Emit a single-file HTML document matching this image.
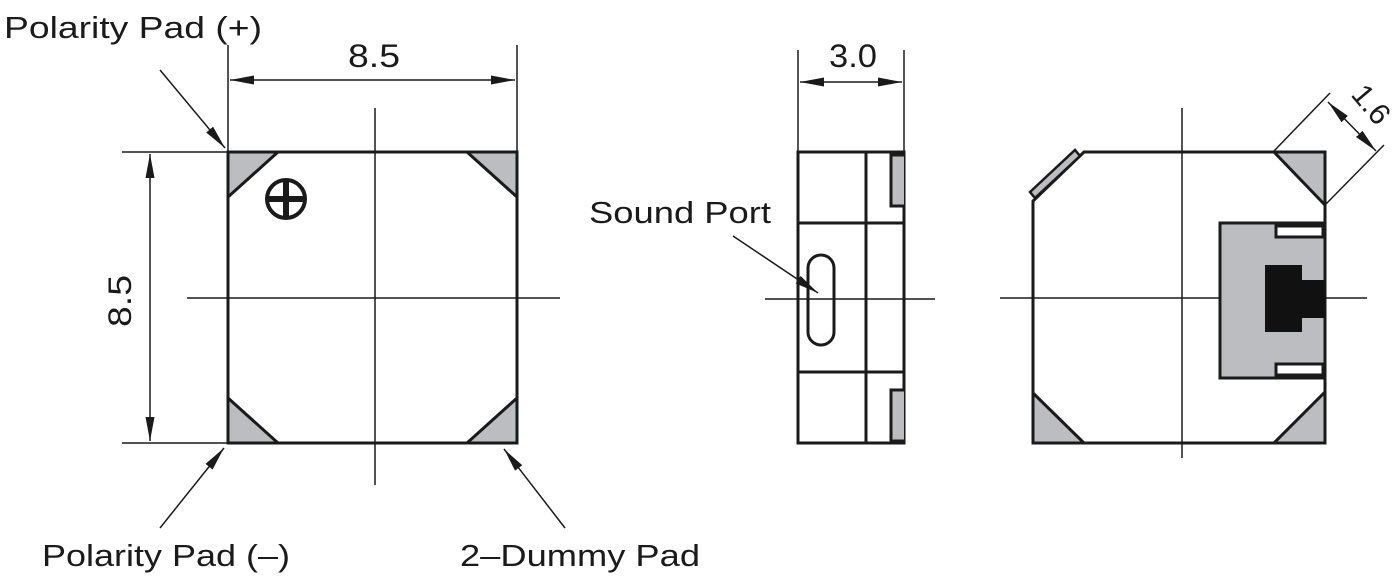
<!DOCTYPE html>
<html><head><meta charset="utf-8"><style>
html,body{margin:0;padding:0;background:#fff;}
svg{display:block;}
text{font-family:"Liberation Sans",sans-serif;fill:#1a1a1a;}
</style></head><body>
<svg width="1400" height="580" viewBox="0 0 1400 580" xmlns="http://www.w3.org/2000/svg">
<defs>
<marker id="a" viewBox="0 0 24 9" refX="24" refY="4.5" markerWidth="24" markerHeight="9" orient="auto" markerUnits="userSpaceOnUse">
<path d="M0,0 L24,4.5 L0,9 z" fill="#1a1a1a"/></marker>
<marker id="b" viewBox="0 0 24 9" refX="0" refY="4.5" markerWidth="24" markerHeight="9" orient="auto" markerUnits="userSpaceOnUse">
<path d="M24,0 L0,4.5 L24,9 z" fill="#1a1a1a"/></marker>
</defs>
<g stroke="#1a1a1a" fill="none">
<g stroke-width="1.5">
<line x1="375" y1="108" x2="375" y2="485"/>
<line x1="187" y1="298" x2="560" y2="298"/>
<line x1="228" y1="45" x2="228" y2="152"/>
<line x1="517" y1="45" x2="517" y2="152"/>
<line x1="230" y1="80" x2="515" y2="80" marker-start="url(#b)" marker-end="url(#a)"/>
<line x1="122" y1="152" x2="228" y2="152"/>
<line x1="122" y1="443" x2="228" y2="443"/>
<line x1="150" y1="154" x2="150" y2="441" marker-start="url(#b)" marker-end="url(#a)"/>
<line x1="160" y1="70" x2="225" y2="148" marker-end="url(#a)"/>
<line x1="160" y1="528" x2="224" y2="448" marker-end="url(#a)"/>
<line x1="565" y1="528" x2="504" y2="449" marker-end="url(#a)"/>
</g>
<g stroke-width="3">
<polygon points="228,152 278,152 228,197" fill="#bcbdc0"/>
<polygon points="517,152 467,152 517,197" fill="#bcbdc0"/>
<polygon points="228,443 278,443 228,398" fill="#bcbdc0"/>
<polygon points="517,443 467,443 517,398" fill="#bcbdc0"/>
<rect x="228" y="152" width="289" height="291"/>
<circle cx="286" cy="199" r="19" stroke-width="4"/>
</g>
<line x1="286" y1="181" x2="286" y2="217" stroke-width="6"/>
<line x1="268" y1="199" x2="304" y2="199" stroke-width="6"/>
<g stroke-width="1.5">
<line x1="798" y1="50" x2="798" y2="152"/>
<line x1="904" y1="50" x2="904" y2="152"/>
<line x1="800" y1="82" x2="902" y2="82" marker-start="url(#b)" marker-end="url(#a)"/>
<line x1="765" y1="299" x2="935" y2="299"/>
<line x1="733" y1="236" x2="818" y2="293" marker-end="url(#a)"/>
</g>
<g stroke-width="3">
<rect x="798" y="152" width="106" height="291"/>
<line x1="866" y1="152" x2="866" y2="443"/>
<line x1="798" y1="223" x2="904" y2="223"/>
<line x1="798" y1="372" x2="904" y2="372"/>
<path d="M904,155 L891,155 L891,206 L904,206" fill="#bcbdc0"/>
<path d="M904,390 L891,390 L891,441 L904,441" fill="#bcbdc0"/>
<rect x="808" y="255" width="26" height="90" rx="13"/>
</g>
<g stroke-width="1.5">
<line x1="1182" y1="108" x2="1182" y2="458"/>
<line x1="1000" y1="298" x2="1367" y2="298"/>
<line x1="1273" y1="152" x2="1330" y2="93"/>
<line x1="1325" y1="205" x2="1384" y2="145"/>
<line x1="1328" y1="102" x2="1376" y2="151" marker-start="url(#b)" marker-end="url(#a)"/>
</g>
<g stroke-width="3">
<polygon points="1274,152 1325,152 1325,205" fill="#bcbdc0"/>
<polygon points="1033,393 1033,443 1084,443" fill="#bcbdc0"/>
<polygon points="1325,392 1325,443 1274,443" fill="#bcbdc0"/>
<polygon points="1084,152 1325,152 1325,443 1033,443 1033,201"/>
<polygon points="1030,192 1075,150 1080,156 1035,198" fill="#bcbdc0" stroke-width="2.5"/>
<rect x="1220" y="223" width="105" height="155" fill="#bcbdc0"/>
<rect x="1276" y="226" width="47" height="11" fill="#fff"/>
<rect x="1276" y="364" width="47" height="11" fill="#fff"/>
</g>
<path d="M1265,265 L1302,265 L1302,280 L1325,280 L1325,318 L1302,318 L1302,332 L1265,332 z" fill="#111" stroke="none"/>
</g>
<text x="4" y="38" font-size="31" textLength="258" lengthAdjust="spacingAndGlyphs">Polarity Pad (+)</text>
<text x="348" y="67" font-size="32" textLength="52" lengthAdjust="spacingAndGlyphs">8.5</text>
<text x="0" y="0" font-size="32" textLength="52" lengthAdjust="spacingAndGlyphs" transform="translate(131,327) rotate(-90)">8.5</text>
<text x="42" y="566" font-size="31" textLength="248" lengthAdjust="spacingAndGlyphs">Polarity Pad (–)</text>
<text x="460" y="566" font-size="31" textLength="240" lengthAdjust="spacingAndGlyphs">2–Dummy Pad</text>
<text x="829" y="67" font-size="32" textLength="48" lengthAdjust="spacingAndGlyphs">3.0</text>
<text x="589" y="223" font-size="31" textLength="182" lengthAdjust="spacingAndGlyphs">Sound Port</text>
<text x="0" y="0" font-size="30" transform="translate(1350,95) rotate(50)">1.6</text>
</svg>
</body></html>
